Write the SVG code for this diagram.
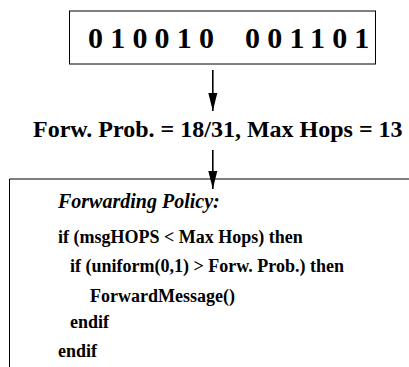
<svg xmlns="http://www.w3.org/2000/svg" width="409" height="367" viewBox="0 0 409 367">
<style>
  text { font-family: 'Liberation Serif', 'Times New Roman', serif; font-weight: 700; fill: #000; }
  .bits { font-size: 30px; letter-spacing: 7.2px; }
  .lbl { font-size: 24px; }
  .head { font-size: 20px; font-style: italic; }
  .code { font-size: 18px; }
  .box { fill: #fff; stroke: #000; stroke-width: 1; }
  .conn { stroke: #000; stroke-width: 1.6; fill: none; }
</style>
<defs>
  <marker id="arr" markerUnits="userSpaceOnUse" markerWidth="18" markerHeight="10" refX="18" refY="5" orient="auto">
    <path d="M0,0.5 L18,5 L0,9.5 z" fill="#000"/>
  </marker>
</defs>
<rect width="409" height="367" fill="#fff"/>
<g id="bits-node">
  <rect class="box" x="69.5" y="11" width="306" height="53"/>
  <text class="bits" y="47.5"><tspan x="88">010010</tspan><tspan x="245">001101</tspan></text>
</g>
<g id="params-node">
  <text class="lbl" x="33" y="136.5">Forw. Prob. = 18/31, Max Hops = 13</text>
</g>
<g id="policy-node">
  <path class="box" d="M409,179 H9.5 V367" fill="none"/>
  <text class="head" x="58" y="208">Forwarding Policy:</text>
  <text class="code" x="58" y="243.3">if (msgHOPS &lt; Max Hops) then</text>
  <text class="code" x="70" y="272">if (uniform(0,1) &gt; Forw. Prob.) then</text>
  <text class="code" x="90" y="301.7">ForwardMessage()</text>
  <text class="code" x="70" y="327.5">endif</text>
  <text class="code" x="58" y="356.7">endif</text>
</g>
<g id="connectors">
  <line class="conn" x1="212.8" y1="70" x2="212.8" y2="111" marker-end="url(#arr)"/>
  <line class="conn" x1="212.8" y1="150" x2="212.8" y2="189" marker-end="url(#arr)"/>
</g>
</svg>
